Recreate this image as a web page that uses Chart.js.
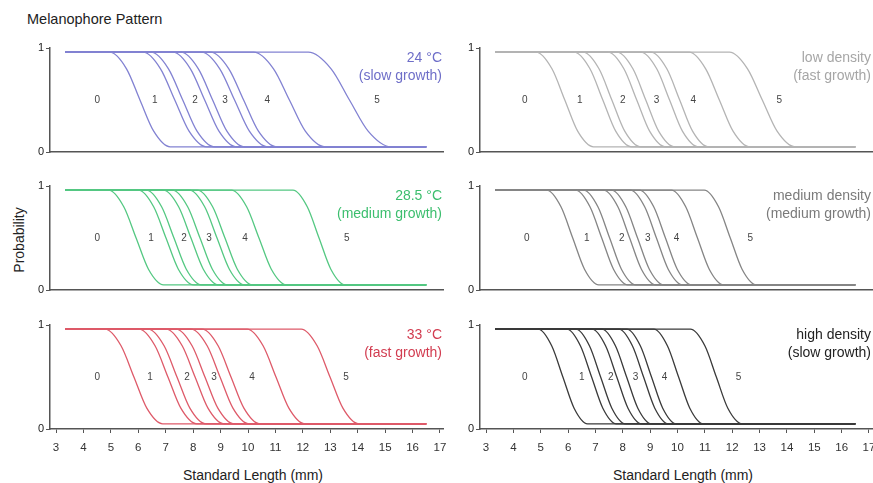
<!DOCTYPE html>
<html>
<head>
<meta charset="utf-8">
<script src="https://cdn.jsdelivr.net/npm/chart.js@4"></script>
<style>
  body { margin: 0; background: #fff; font-family: 'Liberation Sans', Arial, sans-serif; }
  #wrap { position: relative; width: 873px; height: 483px; overflow: hidden; }
  #wrap canvas { position: absolute; }
  .txt { position: absolute; color: #222; white-space: nowrap; font-size: 14px; }
</style>
</head>
<body>
<div id="wrap">
  <div class="txt" style="left:27px; top:11px; font-size:14.5px;">Melanophore Pattern</div>
  <div class="txt" style="left:19px; top:240px; transform: translate(-50%, -50%) rotate(-90deg);">Probability</div>
  <div class="txt" style="left:253px; top:475px; transform: translate(-50%, -50%);">Standard Length (mm)</div>
  <div class="txt" style="left:683px; top:475px; transform: translate(-50%, -50%);">Standard Length (mm)</div>
  <canvas id="p0"></canvas>
  <canvas id="p1"></canvas>
  <canvas id="p2"></canvas>
  <canvas id="p3"></canvas>
  <canvas id="p4"></canvas>
  <canvas id="p5"></canvas>
</div>
<script>
const lengthTicks = [3, 4, 5, 6, 7, 8, 9, 10, 11, 12, 13, 14, 15, 16, 17];
const probTicks = [0, 1];
const regionLabels = ['0', '1', '2', '3', '4', '5'];

// all curves run from 3.33 to 16.5 mm; y levels of the points
const curveStart = 3.33;
const curveEnd = 16.5;
const curveLevels = [0.96, 0.96, 0.8, 0.5, 0.2, 0.05, 0.05];

// each curve: length (mm) where it passes p = 0.96, 0.8, 0.5, 0.2, 0.05
const temp24 = [
  [4.96, 5.57, 6.06, 6.56, 7.16], [6.18, 6.81, 7.33, 7.85, 8.48], [6.47, 7.10, 7.62, 8.14, 8.77],
  [7.27, 7.90, 8.42, 8.94, 9.57], [7.56, 8.19, 8.71, 9.23, 9.86], [8.31, 8.97, 9.51, 10.05, 10.71],
  [8.64, 9.30, 9.84, 10.38, 11.04], [10.21, 10.93, 11.51, 12.09, 12.81], [12.2, 13.03, 13.7, 14.38, 15.2]];
const temp285 = [
  [4.92, 5.47, 5.92, 6.37, 6.92], [6.01, 6.56, 7.01, 7.46, 8.01], [6.30, 6.85, 7.30, 7.75, 8.30],
  [6.92, 7.47, 7.92, 8.37, 8.92], [7.25, 7.80, 8.25, 8.70, 9.25], [7.87, 8.42, 8.87, 9.32, 9.87],
  [8.16, 8.71, 9.16, 9.61, 10.16], [9.40, 9.95, 10.40, 10.85, 11.40], [11.64, 12.16, 12.59, 13.02, 13.54]];
const temp33 = [
  [4.79, 5.37, 5.84, 6.31, 6.89], [6.03, 6.61, 7.08, 7.55, 8.13], [6.36, 6.94, 7.41, 7.88, 8.46],
  [7.02, 7.60, 8.07, 8.54, 9.12], [7.38, 7.96, 8.43, 8.90, 9.48], [7.93, 8.51, 8.98, 9.45, 10.03],
  [8.33, 8.91, 9.38, 9.85, 10.43], [9.97, 10.55, 11.02, 11.49, 12.07], [11.94, 12.52, 12.99, 13.46, 14.04]];
const lowDensity = [
  [4.83, 5.41, 5.88, 6.35, 6.93], [6.22, 6.80, 7.27, 7.74, 8.32], [6.55, 7.13, 7.60, 8.07, 8.65],
  [7.46, 8.04, 8.51, 8.98, 9.56], [7.79, 8.37, 8.84, 9.31, 9.89], [8.66, 9.24, 9.71, 10.18, 10.76],
  [9.03, 9.61, 10.08, 10.55, 11.13], [10.43, 11.03, 11.53, 12.03, 12.63], [11.90, 12.56, 13.10, 13.64, 14.30]];
const mediumDensity = [
  [5.22, 5.74, 6.17, 6.60, 7.12], [6.28, 6.80, 7.23, 7.66, 8.18], [6.57, 7.09, 7.52, 7.95, 8.47],
  [7.30, 7.82, 8.25, 8.68, 9.20], [7.59, 8.11, 8.54, 8.97, 9.49], [8.28, 8.80, 9.23, 9.66, 10.18],
  [8.61, 9.13, 9.56, 9.99, 10.51], [9.78, 10.30, 10.73, 11.16, 11.68], [10.98, 11.50, 11.93, 12.36, 12.88]];
const highDensity = [
  [4.91, 5.40, 5.81, 6.22, 6.71], [5.96, 6.45, 6.86, 7.27, 7.76], [6.29, 6.78, 7.19, 7.60, 8.09],
  [6.88, 7.37, 7.78, 8.19, 8.68], [7.24, 7.73, 8.14, 8.55, 9.04], [7.86, 8.35, 8.76, 9.17, 9.66],
  [8.15, 8.64, 9.05, 9.46, 9.95], [9.14, 9.63, 10.04, 10.45, 10.94], [10.47, 11.00, 11.42, 11.84, 12.37]];

// where the pattern numbers sit along the length axis
const labelX24 = [4.5, 6.6, 8.07, 9.16, 10.7, 14.7];
const labelX285 = [4.5, 6.46, 7.67, 8.58, 9.89, 13.6];
const labelX33 = [4.5, 6.43, 7.78, 8.76, 10.15, 13.57];
const labelXLow = [4.42, 6.43, 8.0, 9.23, 10.58, 13.72];
const labelXMed = [4.49, 6.68, 7.96, 8.91, 9.96, 12.66];
const labelXHigh = [4.42, 6.5, 7.56, 8.47, 9.53, 12.23];

const panels = [
  { id: 'p0', col: 0, row: 0, curves: temp24, labelX: labelX24, line: 'rgb(130,130,210)', text: 'rgb(110,110,200)', title: ['24 °C', '(slow growth)'] },
  { id: 'p1', col: 0, row: 1, curves: temp285, labelX: labelX285, line: 'rgb(84,200,130)', text: 'rgb(60,190,110)', title: ['28.5 °C', '(medium growth)'] },
  { id: 'p2', col: 0, row: 2, curves: temp33, labelX: labelX33, line: 'rgb(222,90,105)', text: 'rgb(210,60,80)', title: ['33 °C', '(fast growth)'] },
  { id: 'p3', col: 1, row: 0, curves: lowDensity, labelX: labelXLow, line: '#b4b4b4', text: '#a6a6a6', title: ['low density', '(fast growth)'] },
  { id: 'p4', col: 1, row: 1, curves: mediumDensity, labelX: labelXMed, line: '#858585', text: '#7a7a7a', title: ['medium density', '(medium growth)'] },
  { id: 'p5', col: 1, row: 2, curves: highDensity, labelX: labelXHigh, line: '#3a3a3a', text: '#222', title: ['high density', '(slow growth)'] },
];

const rowTop = [48, 186, 325];
const plotH = 104;
const font = "'Liberation Sans', Arial, sans-serif";

const panelText = {
  id: 'panelText',
  afterDatasetsDraw(chart, args, opts) {
    const { ctx, chartArea, scales: { x, y } } = chart;
    ctx.save();
    ctx.font = '10px ' + font;
    ctx.fillStyle = '#444';
    ctx.textAlign = 'center';
    ctx.textBaseline = 'middle';
    regionLabels.forEach((t, i) => {
      ctx.fillText(t, x.getPixelForValue(opts.labelX[i]), y.getPixelForValue(0.5));
    });
    ctx.font = '14px ' + font;
    ctx.fillStyle = opts.color;
    ctx.textAlign = 'right';
    ctx.fillText(opts.title[0], chartArea.right - 1, chartArea.top + 10);
    ctx.fillText(opts.title[1], chartArea.right - 1, chartArea.top + 28);
    ctx.restore();
  }
};

panels.forEach(p => {
  const bottomRow = p.row === 2;
  const cv = document.getElementById(p.id);
  const left = p.col === 0 ? 0 : 430;
  // the right column canvas runs past the window edge so the last tick label is cut like in the original
  const width = p.col === 0 ? 450 : 460;
  const padRight = p.col === 0 ? 7 : 18;
  const xAxisH = bottomRow ? 32 : 0;
  const height = plotH + 12 + xAxisH + 4;
  cv.style.left = left + 'px';
  cv.style.top = (rowTop[p.row] - 12) + 'px';
  cv.style.width = width + 'px';
  cv.style.height = height + 'px';
  cv.width = width;
  cv.height = height;

  const datasets = p.curves.map(c => ({
    data: [curveStart, ...c, curveEnd].map((x, i) => ({ x, y: curveLevels[i] })),
    borderColor: p.line,
    borderWidth: 1.3,
    pointRadius: 0,
    cubicInterpolationMode: 'monotone',
    fill: false,
  }));

  new Chart(cv, {
    type: 'line',
    data: { datasets },
    plugins: [panelText],
    options: {
      responsive: false,
      animation: false,
      events: [],
      layout: { padding: { top: 12, bottom: 4, left: 0, right: padRight } },
      plugins: {
        legend: { display: false },
        tooltip: { enabled: false },
        panelText: { labelX: p.labelX, title: p.title, color: p.text },
      },
      scales: {
        x: {
          type: 'linear',
          min: 2.78,
          max: 17.11,
          afterFit: s => { s.height = xAxisH; s.paddingLeft = 0; s.paddingRight = 0; },
          afterBuildTicks: s => { s.ticks = lengthTicks.map(v => ({ value: v })); },
          border: { display: true, color: '#555', width: 1.5 },
          grid: { display: bottomRow, drawOnChartArea: false, tickLength: 4, color: '#555' },
          ticks: { display: bottomRow, autoSkip: false, maxRotation: 0, padding: 8, color: '#333', font: { family: font, size: 11.5 } },
        },
        y: {
          min: 0,
          max: 1,
          afterFit: s => { s.width = 50; s.paddingTop = 0; s.paddingBottom = 0; },
          afterBuildTicks: s => { s.ticks = probTicks.map(v => ({ value: v })); },
          border: { display: true, color: '#555', width: 1.5 },
          grid: { drawOnChartArea: false, tickLength: 4, color: '#555' },
          ticks: { padding: 2, color: '#222', font: { family: font, size: 11 } },
        },
      },
    },
  });
});
</script>
</body>
</html>
